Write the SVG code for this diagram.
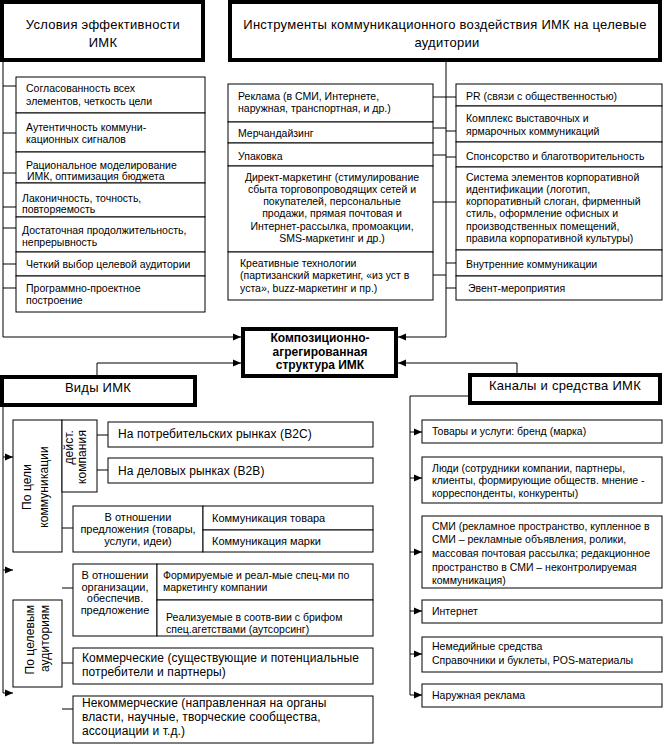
<svg xmlns="http://www.w3.org/2000/svg" width="664" height="745" viewBox="0 0 664 745">
<defs>
<marker id="ar" markerUnits="userSpaceOnUse" markerWidth="9" markerHeight="8" refX="8" refY="4" orient="auto">
<path d="M0,0.5 L8,4 L0,7.5 z" fill="#000"/>
</marker>
<style>
rect{fill:#fff;stroke:#000;stroke-width:1}
rect.h{stroke-width:4}
line,polyline{stroke:#000;stroke-width:1;fill:none}
.a{marker-end:url(#ar)}
text{font-family:"Liberation Sans",Arial,sans-serif;fill:#000}
.hd{font-size:13px;letter-spacing:0.25px}
.s{font-size:10.5px}
.m{font-size:12px;letter-spacing:0.1px}
.n{font-size:11px}
.b{font-size:12px;font-weight:bold}
.c{text-anchor:middle}
</style>
</defs>
<rect width="664" height="745" style="fill:#fff;stroke:none"/>

<g id="connectors">
<polyline class="a" points="3,60 3,337 241,337"/>
<polyline class="a" points="446,60 446,337 398,337"/>
<polyline class="a" points="97,375 97,363 241,363"/>
<polyline class="a" points="517,373 517,363 398,363"/>
<line x1="3" y1="86" x2="16" y2="86"/>
<line x1="3" y1="133" x2="16" y2="133"/>
<line x1="3" y1="173" x2="16" y2="173"/>
<line x1="3" y1="207" x2="16" y2="207"/>
<line x1="3" y1="228" x2="16" y2="228"/>
<line x1="3" y1="264" x2="16" y2="264"/>
<line x1="3" y1="288" x2="16" y2="288"/>
<line x1="433" y1="97" x2="446" y2="97"/>
<line x1="433" y1="128" x2="446" y2="128"/>
<line x1="433" y1="155" x2="446" y2="155"/>
<line x1="433" y1="202" x2="446" y2="202"/>
<line x1="433" y1="275" x2="446" y2="275"/>
<line x1="446" y1="97" x2="456" y2="97"/>
<line x1="446" y1="131" x2="456" y2="131"/>
<line x1="446" y1="157" x2="456" y2="157"/>
<line x1="446" y1="202" x2="456" y2="202"/>
<line x1="446" y1="263" x2="456" y2="263"/>
<line x1="446" y1="288" x2="456" y2="288"/>
<line x1="3" y1="407" x2="3" y2="693"/>
<line class="a" x1="3" y1="457" x2="13" y2="457"/>
<line class="a" x1="3" y1="570" x2="13" y2="570"/>
<line class="a" x1="3" y1="693" x2="13" y2="693"/>
<line x1="97" y1="435" x2="108" y2="435"/>
<line x1="97" y1="470" x2="108" y2="470"/>
<line x1="62" y1="528" x2="73" y2="528"/>
<line x1="62" y1="588" x2="73" y2="588"/>
<line x1="62" y1="663" x2="73" y2="663"/>
<line x1="62" y1="709" x2="73" y2="709"/>
<polyline points="468,396 410,396 410,695"/>
<line class="a" x1="410" y1="432" x2="422" y2="432"/>
<line class="a" x1="410" y1="478" x2="422" y2="478"/>
<line class="a" x1="410" y1="552" x2="422" y2="552"/>
<line class="a" x1="410" y1="611" x2="422" y2="611"/>
<line class="a" x1="410" y1="654" x2="422" y2="654"/>
<line class="a" x1="410" y1="695" x2="422" y2="695"/>
</g>

<g id="usloviya">
<rect class="h" x="2" y="2" width="201" height="58"/>
<text class="hd c" x="103" y="29">Условия эффективности</text>
<text class="hd c" x="103" y="47">ИМК</text>
</g>
<g id="instrumenty">
<rect class="h" x="230" y="2" width="430" height="58"/>
<text class="hd c" x="445" y="29">Инструменты коммуникационного воздействия  ИМК на целевые</text>
<text class="hd c" x="447" y="47">аудитории</text>
</g>

<g id="u1"><rect x="16" y="77" width="189" height="36"/>
<text class="s" x="26" y="92">Согласованность всех</text><text class="s" x="26" y="105">элементов, четкость цели</text></g>
<g id="u2"><rect x="16" y="113" width="189" height="39"/>
<text class="s" x="26" y="131">Аутентичность коммуни-</text><text class="s" x="26" y="143">кационных сигналов</text></g>
<g id="u3"><rect x="16" y="152" width="189" height="31"/>
<text class="s" x="26" y="169">Рациональное моделирование</text><text class="s" x="27" y="180">ИМК, оптимизация бюджета</text></g>
<g id="u4"><rect x="16" y="183" width="189" height="34"/>
<text class="s" x="22" y="202">Лаконичность, точность,</text><text class="s" x="22" y="213">повторяемость</text></g>
<g id="u5"><rect x="16" y="217" width="189" height="35"/>
<text class="s" x="22" y="234">Достаточная  продолжительность,</text><text class="s" x="22" y="246">непрерывность</text></g>
<g id="u6"><rect x="16" y="252" width="189" height="24"/>
<text class="s" x="26" y="268">Четкий выбор целевой аудитории</text></g>
<g id="u7"><rect x="16" y="276" width="189" height="36"/>
<text class="s" x="26" y="292">Программно-проектное</text><text class="s" x="26" y="304">построение</text></g>

<g id="i1"><rect x="228" y="84" width="205" height="38"/>
<text class="s" x="238" y="100">Реклама (в СМИ, Интернете,</text><text class="s" x="238" y="112">наружная, транспортная, и др.)</text></g>
<g id="i2"><rect x="228" y="122" width="205" height="21"/>
<text class="s" x="238" y="137">Мерчандайзинг</text></g>
<g id="i3"><rect x="228" y="143" width="205" height="23"/>
<text class="s" x="238" y="160">Упаковка</text></g>
<g id="i4"><rect x="228" y="166" width="205" height="86"/>
<text class="s c" x="332" y="181">Директ-маркетинг (стимулирование</text>
<text class="s c" x="332" y="193">сбыта торговопроводящих сетей и</text>
<text class="s c" x="332" y="205">покупателей, персональные</text>
<text class="s c" x="332" y="217">продажи, прямая почтовая  и</text>
<text class="s c" x="332" y="230">Интернет-рассылка, промоакции,</text>
<text class="s c" x="332" y="242">SMS-маркетинг и др.)</text></g>
<g id="i5"><rect x="228" y="252" width="205" height="48"/>
<text class="s" x="240" y="267">Креативные технологии</text>
<text class="s" x="240" y="279">(партизанский маркетинг, «из уст в</text>
<text class="s" x="240" y="292">уста», buzz-маркетинг и пр.)</text></g>

<g id="r1"><rect x="456" y="84" width="206" height="22"/>
<text class="s" x="466" y="100">PR (связи с общественностью)</text></g>
<g id="r2"><rect x="456" y="106" width="206" height="36"/>
<text class="s" x="466" y="122">Комплекс  выставочных и</text><text class="s" x="466" y="135">ярмарочных коммуникаций</text></g>
<g id="r3"><rect x="456" y="142" width="206" height="25"/>
<text class="s" x="466" y="160">Спонсорство и благотворительность</text></g>
<g id="r4"><rect x="456" y="167" width="206" height="83"/>
<text class="s" x="466" y="181">Система элементов корпоративной</text>
<text class="s" x="466" y="193">идентификации (логотип,</text>
<text class="s" x="466" y="205">корпоративный слоган, фирменный</text>
<text class="s" x="466" y="217">стиль, оформление офисных и</text>
<text class="s" x="466" y="230">производственных помещений,</text>
<text class="s" x="466" y="242">правила корпоративной культуры)</text></g>
<g id="r5"><rect x="456" y="250" width="206" height="26"/>
<text class="s" x="466" y="268">Внутренние коммуникации</text></g>
<g id="r6"><rect x="456" y="276" width="206" height="24"/>
<text class="s" x="468" y="292">Эвент-мероприятия</text></g>

<g id="center">
<rect class="h" x="243" y="329" width="153" height="47"/>
<text class="b c" x="320" y="342">Композиционно-</text>
<text class="b c" x="320" y="356">агрегированная</text>
<text class="b c" x="320" y="369">структура ИМК</text>
</g>

<g id="vidy">
<rect class="h" x="2" y="377" width="193" height="28"/>
<text class="hd c" x="98" y="392">Виды ИМК</text>
</g>
<g id="kanaly">
<rect class="h" x="470" y="375" width="190" height="28"/>
<text class="hd c" x="565" y="390">Каналы и средства ИМК</text>
</g>

<g id="po-celi"><rect x="13" y="420" width="49" height="132"/>
<text class="m c" transform="translate(31,487) rotate(-90)">По цели</text>
<text class="m c" transform="translate(48,487) rotate(-90)">коммуникации</text></g>
<g id="deyst"><rect x="62" y="420" width="35" height="72"/>
<text class="m" text-anchor="end" transform="translate(73,430) rotate(-90)">дейст.</text>
<text class="m" text-anchor="end" transform="translate(86,430) rotate(-90)">компания</text></g>
<g id="b2c"><rect x="108" y="422" width="265" height="25"/>
<text class="m" x="118" y="438">На потребительских рынках (B2C)</text></g>
<g id="b2b"><rect x="108" y="458" width="265" height="25"/>
<text class="m" x="118" y="475">На деловых рынках (B2B)</text></g>
<g id="predl"><rect x="73" y="506" width="130" height="46"/>
<text class="n c" x="138" y="521">В отношении</text>
<text class="n c" x="138" y="533">предложения (товары,</text>
<text class="n c" x="138" y="545">услуги, идеи)</text></g>
<g id="tovar"><rect x="203" y="506" width="170" height="24"/>
<text class="n" x="212" y="522">Коммуникация  товара</text></g>
<g id="marka"><rect x="203" y="530" width="170" height="22"/>
<text class="n" x="212" y="545">Коммуникация  марки</text></g>

<g id="po-auditoriyam"><rect x="13" y="600" width="49" height="87"/>
<text class="m" text-anchor="end" transform="translate(34,605) rotate(-90)">По целевым</text>
<text class="m" text-anchor="end" transform="translate(49,605) rotate(-90)">аудиториям</text></g>
<g id="org"><rect x="73" y="564" width="84" height="72"/>
<text class="n c" x="115" y="579">В отношении</text>
<text class="n c" x="115" y="591">организации,</text>
<text class="n c" x="115" y="602">обеспечив.</text>
<text class="n c" x="115" y="614">предложение</text></g>
<g id="form"><rect x="157" y="564" width="216" height="36"/>
<text class="s" x="163" y="579">Формируемые и реал-мые спец-ми по</text>
<text class="s" x="163" y="591">маркетингу компании</text></g>
<g id="real"><rect x="157" y="600" width="216" height="36"/>
<text class="s" x="166" y="621">Реализуемые в соотв-вии с брифом</text>
<text class="s" x="166" y="633">спец.агетствами (аутсорсинг)</text></g>
<g id="komm"><rect x="73" y="648" width="300" height="36"/>
<text class="m" x="82" y="662">Коммерческие (существующие и потенциальные</text>
<text class="m" x="82" y="676">потребители и партнеры)</text></g>
<g id="nekomm"><rect x="73" y="696" width="300" height="47"/>
<text class="m" x="82" y="707">Некоммерческие (направленная на органы</text>
<text class="m" x="82" y="721">власти, научные, творческие сообщества,</text>
<text class="m" x="82" y="735">ассоциации и т.д.)</text></g>

<g id="k1"><rect x="422" y="420" width="240" height="23"/>
<text class="s" x="432" y="435">Товары и услуги: бренд (марка)</text></g>
<g id="k2"><rect x="422" y="457" width="240" height="46"/>
<text class="s" x="432" y="472">Люди (сотрудники компании, партнеры,</text>
<text class="s" x="432" y="484">клиенты, формирующие обществ. мнение  -</text>
<text class="s" x="432" y="497">корреспонденты, конкуренты)</text></g>
<g id="k3"><rect x="422" y="516" width="240" height="72"/>
<text class="s" x="432" y="530">СМИ (рекламное пространство, купленное в</text>
<text class="s" x="432" y="543">СМИ – рекламные объявления, ролики,</text>
<text class="s" x="432" y="557">массовая почтовая рассылка; редакционное</text>
<text class="s" x="432" y="571">пространство в СМИ – неконтролируемая</text>
<text class="s" x="432" y="584">коммуникация)</text></g>
<g id="k4"><rect x="422" y="600" width="240" height="23"/>
<text class="s" x="432" y="615">Интернет</text></g>
<g id="k5"><rect x="422" y="637" width="240" height="35"/>
<text class="s" x="432" y="650">Немедийные средства</text>
<text class="s" x="432" y="664">Справочники и буклеты, POS-материалы</text></g>
<g id="k6"><rect x="422" y="684" width="240" height="23"/>
<text class="s" x="432" y="699">Наружная реклама</text></g>
</svg>
